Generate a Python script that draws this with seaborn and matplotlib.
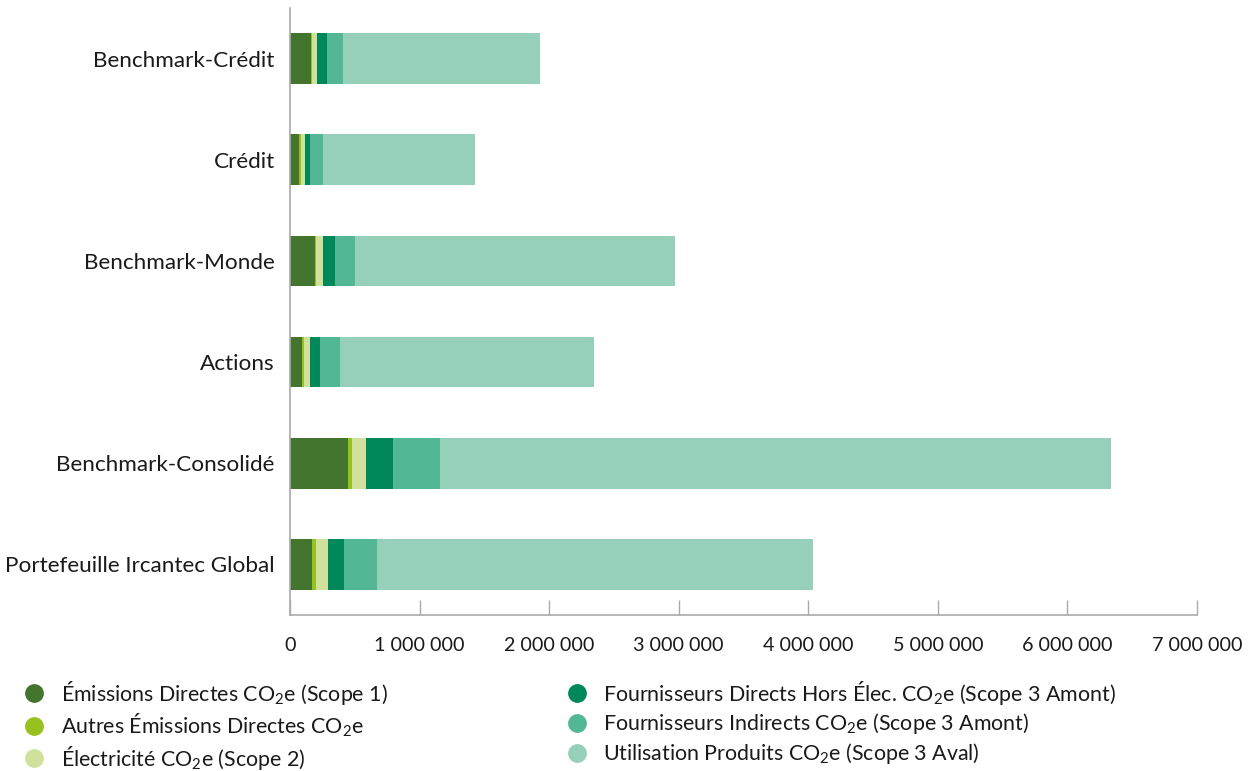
import numpy as np
import pandas as pd
import seaborn as sns
import matplotlib
matplotlib.use("Agg")
import matplotlib.pyplot as plt
from matplotlib.lines import Line2D
from matplotlib.ticker import FuncFormatter

# Portfolios (top to bottom)
categories = [
    "Benchmark-Crédit",
    "Crédit",
    "Benchmark-Monde",
    "Actions",
    "Benchmark-Consolidé",
    "Portefeuille Ircantec Global",
]

# Emissions by scope, tCO2e
scope1 = [162000, 69000, 193000, 93000, 448000, 170000]
autres_directes = [10000, 15000, 8000, 15000, 31000, 31000]
electricite = [36000, 31000, 54000, 46000, 108000, 93000]
fourn_directs = [77000, 39000, 93000, 77000, 208000, 123000]
fourn_indirects = [123000, 100000, 154000, 154000, 363000, 255000]
utilisation = [1520000, 1173000, 2469000, 1960000, 5177000, 3364000]

series_labels = [
    "Émissions Directes CO$_2$e (Scope 1)",
    "Autres Émissions Directes CO$_2$e",
    "Électricité CO$_2$e (Scope 2)",
    "Fournisseurs Directs Hors Élec. CO$_2$e (Scope 3 Amont)",
    "Fournisseurs Indirects CO$_2$e (Scope 3 Amont)",
    "Utilisation Produits CO$_2$e (Scope 3 Aval)",
]
colors = ["#43752E", "#97C11F", "#D0E19D", "#00875A", "#52B794", "#96CFBA"]

xticks = [0, 1000000, 2000000, 3000000, 4000000, 5000000, 6000000, 7000000]

sns.set_theme(style="white")
plt.rcParams["font.family"] = ["Lato", "DejaVu Sans"]
plt.rcParams["mathtext.default"] = "regular"

series = [scope1, autres_directes, electricite, fourn_directs, fourn_indirects, utilisation]
cumulative = np.cumsum(np.array(series, dtype=float), axis=0)

fig = plt.figure(figsize=(12.5, 7.71), dpi=100)
ax = fig.add_axes([0.232, 0.2023, 0.7256, 0.7873])

# Stacked bars: draw running totals from the largest down so each layer shows its own segment
for k in range(len(series) - 1, -1, -1):
    df = pd.DataFrame({"categorie": categories, "valeur": cumulative[k]})
    sns.barplot(data=df, x="valeur", y="categorie", orient="h", color=colors[k],
                saturation=1, width=0.5, ax=ax, linewidth=0, order=categories)

ax.set_xlim(0, 7000000)
ax.set_ylim(5.5, -0.5)
ax.set_xlabel("")
ax.set_ylabel("")
ax.set_xticks(xticks)
ax.xaxis.set_major_formatter(FuncFormatter(lambda v, p: f"{v:,.0f}".replace(",", " ")))

for side in ["top", "right"]:
    ax.spines[side].set_visible(False)
for side in ["left", "bottom"]:
    ax.spines[side].set_color("#AAAAAA")
    ax.spines[side].set_linewidth(1.2)

ax.tick_params(axis="x", direction="in", length=11, width=1, color="#AAAAAA",
               pad=16, labelsize=14.2, labelcolor="#1a1a1a", bottom=True)
ax.tick_params(axis="y", length=0, pad=11, labelsize=16.2, labelcolor="#1a1a1a")

# Legend split in two columns
handles = [Line2D([0], [0], marker="o", linestyle="none", markersize=12.5,
                  markerfacecolor=c, markeredgecolor=c) for c in colors]
legend_kw = dict(loc="upper left", frameon=False, fontsize=15.4,
                 handletextpad=0.75, labelspacing=0.23, handlelength=1.0,
                 labelcolor="#1a1a1a", borderaxespad=0)
fig.legend(handles[:3], series_labels[:3], bbox_to_anchor=(0.012, 0.131), **legend_kw)
fig.legend(handles[3:], series_labels[3:], bbox_to_anchor=(0.446, 0.131), **legend_kw)

fig.savefig("out.png", dpi=100)
